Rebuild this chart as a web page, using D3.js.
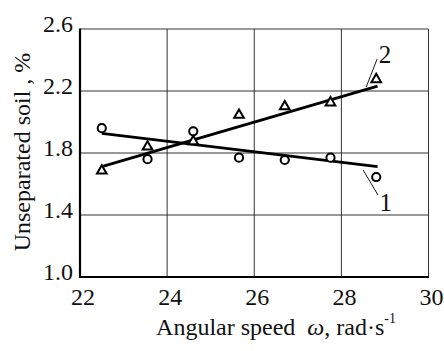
<!DOCTYPE html>
<html>
<head>
<meta charset="utf-8">
<script src="https://cdn.jsdelivr.net/npm/d3@7/dist/d3.min.js"></script>
<style>
  html, body { margin: 0; padding: 0; background: #fff; }
  svg text { font-family: "Liberation Serif", "DejaVu Serif", serif; fill: #111; }
</style>
</head>
<body>
<div id="chart"></div>
<script>
// angular speed, rad/s
const speeds = [22.5, 23.55, 24.6, 25.65, 26.7, 27.75, 28.8];
// curve 1 (circles) and curve 2 (triangles), unseparated soil %
const soil1 = [1.96, 1.76, 1.94, 1.77, 1.755, 1.77, 1.645];
const soil2 = [1.685, 1.84, 1.875, 2.045, 2.10, 2.125, 2.275];
// fitted trend lines, [x, y] end points
const fit1 = [[22.5, 1.927], [28.83, 1.712]];
const fit2 = [[22.5, 1.712], [28.83, 2.232]];
// curve labels with their leader lines
const labels = [
  { text: '2', leader: [[28.57, 2.226], [28.82, 2.406]], at: [29.0, 2.381] },
  { text: '1', leader: [[28.50, 1.690], [28.84, 1.529]], at: [29.02, 1.426] }
];
const xTicks = [22, 24, 26, 28, 30];
const yTicks = [1.0, 1.4, 1.8, 2.2, 2.6];

const W = 444, H = 351;
const x = d3.scaleLinear().domain([22, 30]).range([80, 428.5]);
const y = d3.scaleLinear().domain([1.0, 2.6]).range([277, 29]);

const svg = d3.select('#chart').append('svg')
  .attr('width', W)
  .attr('height', H);

// grid
svg.append('g')
  .selectAll('line')
  .data(xTicks.slice(1))
  .enter().append('line')
  .attr('x1', d => x(d)).attr('x2', d => x(d))
  .attr('y1', y(1.0)).attr('y2', y(2.6))
  .attr('stroke', '#333').attr('stroke-width', 1);

svg.append('g')
  .selectAll('line')
  .data(yTicks.slice(1))
  .enter().append('line')
  .attr('x1', x(22)).attr('x2', x(30))
  .attr('y1', d => y(d)).attr('y2', d => y(d))
  .attr('stroke', '#333').attr('stroke-width', 1);

// heavy left and bottom axes
svg.append('line')
  .attr('x1', x(22)).attr('x2', x(22))
  .attr('y1', y(2.6) - 0.5).attr('y2', y(1.0) + 1)
  .attr('stroke', '#000').attr('stroke-width', 2.2);
svg.append('line')
  .attr('x1', x(22) - 1).attr('x2', x(30) + 0.5)
  .attr('y1', y(1.0)).attr('y2', y(1.0))
  .attr('stroke', '#000').attr('stroke-width', 2.2);

// tick labels
svg.append('g')
  .selectAll('text')
  .data(yTicks)
  .enter().append('text')
  .attr('x', 73)
  .attr('y', d => y(d) + 3)
  .attr('text-anchor', 'end')
  .style('font-size', '24px')
  .text(d => d.toFixed(1));

svg.append('g')
  .selectAll('text')
  .data(xTicks)
  .enter().append('text')
  .attr('x', d => x(d) + 3)
  .attr('y', 305)
  .attr('text-anchor', 'middle')
  .style('font-size', '24px')
  .text(d => d);

// axis titles
svg.append('text')
  .attr('transform', 'translate(30,152) rotate(-90)')
  .attr('text-anchor', 'middle')
  .style('font-size', '24px')
  .text('Unseparated soil , %');

const xt = svg.append('text')
  .attr('x', 276)
  .attr('y', 335)
  .attr('text-anchor', 'middle')
  .style('font-size', '24px')
  .attr('xml:space', 'preserve');
xt.append('tspan').text('Angular speed  ');
xt.append('tspan').style('font-style', 'italic').text('ω');
xt.append('tspan').text(', rad·s');
xt.append('tspan').attr('dy', -12).style('font-size', '14px').text('-1');

// fitted lines
const line = d3.line().x(d => x(d[0])).y(d => y(d[1]));
[fit1, fit2].forEach(f => {
  svg.append('path')
    .attr('d', line(f))
    .attr('fill', 'none')
    .attr('stroke', '#000')
    .attr('stroke-width', 2.8);
});

// leader lines and curve labels
labels.forEach(l => {
  svg.append('path')
    .attr('d', line(l.leader))
    .attr('fill', 'none')
    .attr('stroke', '#000')
    .attr('stroke-width', 0.9);
  svg.append('text')
    .attr('x', x(l.at[0]))
    .attr('y', y(l.at[1]))
    .attr('text-anchor', 'middle')
    .style('font-size', '25px')
    .text(l.text);
});

// markers
svg.append('g')
  .selectAll('circle')
  .data(speeds.map((s, i) => [s, soil1[i]]))
  .enter().append('circle')
  .attr('cx', d => x(d[0]))
  .attr('cy', d => y(d[1]))
  .attr('r', 4.1)
  .attr('fill', '#fff')
  .attr('stroke', '#000')
  .attr('stroke-width', 2);

const tri = d3.symbol().type(d3.symbolTriangle).size(40);
svg.append('g')
  .selectAll('path')
  .data(speeds.map((s, i) => [s, soil2[i]]))
  .enter().append('path')
  .attr('d', tri)
  .attr('transform', d => `translate(${x(d[0])},${y(d[1])})`)
  .attr('fill', '#fff')
  .attr('stroke', '#000')
  .attr('stroke-width', 2);
</script>
</body>
</html>
